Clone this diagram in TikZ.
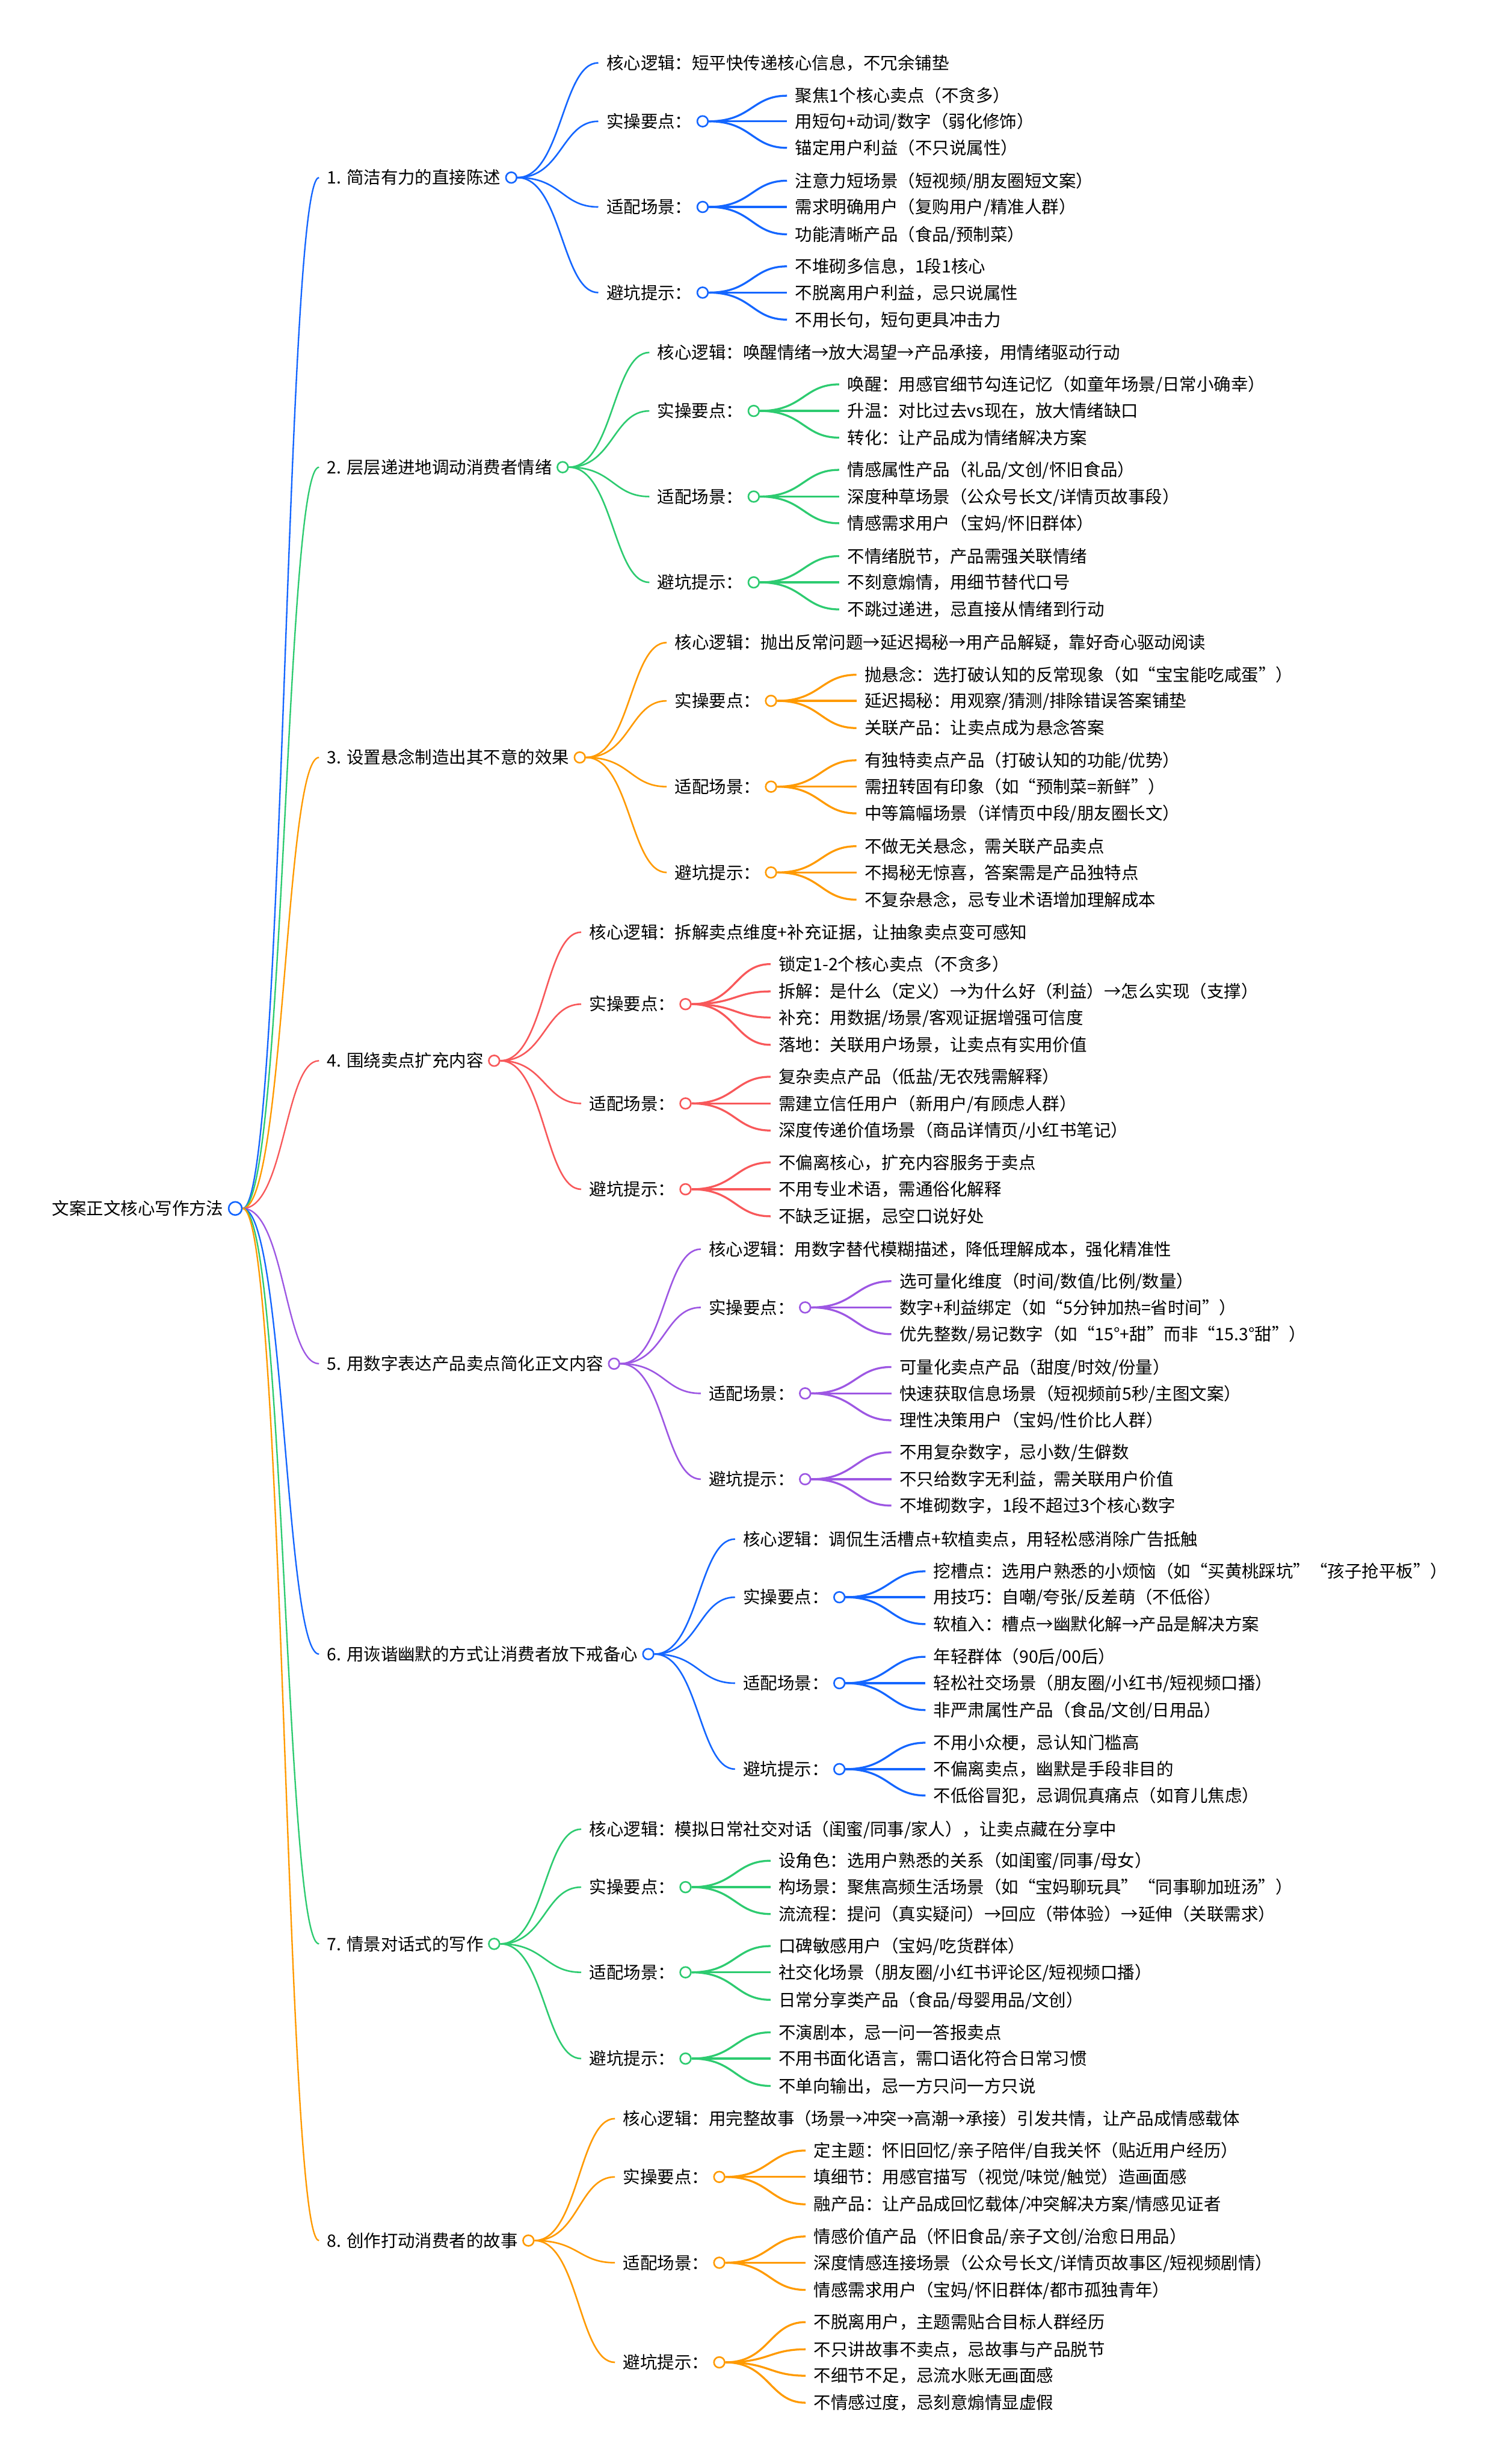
\documentclass[tikz,border=0pt]{standalone}
\usepackage{fontspec}
\setmainfont{Noto Sans CJK SC}
\usepackage{xcolor}
\usetikzlibrary{positioning,calc}
\definecolor{mblue}{HTML}{1466FF}
\definecolor{mgreen}{HTML}{2DCB70}
\definecolor{morange}{HTML}{FF9A00}
\definecolor{mred}{HTML}{F8585A}
\definecolor{mpurple}{HTML}{9D57E3}
\tikzset{
  tnode/.style={anchor=west, inner sep=0pt, text height=9pt, text depth=0.8pt,
                font=\fontsize{10.9}{13}\selectfont},
  dot/.style={circle, draw=#1, fill=white, line width=1pt, minimum size=6.8pt, inner sep=0pt},
  link/.style={line width=1pt, shorten >=5pt,
               to path={let \p1=(\tikztostart), \p2=(\tikztotarget) in
                 .. controls ({(\x1+\x2)/2},\y1) and ({(\x1+\x2)/2},\y2) .. (\tikztotarget)}},
  twig/.style={link, line width=1.25pt},
}

\begin{document}
\begin{tikzpicture}[x=1pt, y=-1pt]
  \fill[white] (0,0) rectangle (955,1568);
  \useasboundingbox (0,0) rectangle (955,1568);

  % root
  \node[tnode] (root) at (33,769) {文案正文核心写作方法};
  \node[dot=mblue, minimum size=8.4pt, right=2.6pt of root] (rooto) {};

  % branches
  \node[tnode] (b1) at (208,113) {1. 简洁有力的直接陈述};
  \node[tnode] (b2) at (208,297.3) {2. 层层递进地调动消费者情绪};
  \node[tnode] (b3) at (208,482) {3. 设置悬念制造出其不意的效果};
  \node[tnode] (b4) at (208,675) {4. 围绕卖点扩充内容};
  \node[tnode] (b5) at (208,867.8) {5. 用数字表达产品卖点简化正文内容};
  \node[tnode] (b6) at (208,1052.6) {6. 用诙谐幽默的方式让消费者放下戒备心};
  \node[tnode] (b7) at (208,1237) {7. 情景对话式的写作};
  \node[tnode] (b8) at (208,1425.8) {8. 创作打动消费者的故事};
  \node[dot=mblue, right=2.6pt of b1] (b1o) {};
  \node[dot=mgreen, right=2.6pt of b2] (b2o) {};
  \node[dot=morange, right=2.6pt of b3] (b3o) {};
  \node[dot=mred, right=2.6pt of b4] (b4o) {};
  \node[dot=mpurple, right=2.6pt of b5] (b5o) {};
  \node[dot=mblue, right=2.6pt of b6] (b6o) {};
  \node[dot=mgreen, right=2.6pt of b7] (b7o) {};
  \node[dot=morange, right=2.6pt of b8] (b8o) {};
  \draw[link, line width=0.9pt] (rooto.east)
    edge[mblue] (b1.west) edge[mgreen] (b2.west) edge[morange] (b3.west) edge[mred] (b4.west)
    edge[mpurple] (b5.west) edge[mblue] (b6.west) edge[mgreen] (b7.west) edge[morange] (b8.west);

  % 1
  \node[tnode] (b1k) at (385.7,40) {核心逻辑：短平快传递核心信息，不冗余铺垫};
  \node[tnode] (b1s) at (385.7,77.2) {实操要点：};
  \node[tnode] (b1f) at (385.7,131.7) {适配场景：};
  \node[tnode] (b1p) at (385.7,186.2) {避坑提示：};
  \node[dot=mblue, right=2.6pt of b1s] (b1so) {};
  \node[dot=mblue, right=2.6pt of b1f] (b1fo) {};
  \node[dot=mblue, right=2.6pt of b1p] (b1po) {};
  \node[tnode] (b1s1) at (505.8,60.9) {聚焦1个核心卖点（不贪多）};
  \node[tnode] (b1s2) at (505.8,77.2) {用短句+动词/数字（弱化修饰）};
  \node[tnode] (b1s3) at (505.8,94.1) {锚定用户利益（不只说属性）};
  \node[tnode] (b1f1) at (505.8,115) {注意力短场景（短视频/朋友圈短文案）};
  \node[tnode] (b1f2) at (505.8,131.7) {需求明确用户（复购用户/精准人群）};
  \node[tnode] (b1f3) at (505.8,149.1) {功能清晰产品（食品/预制菜）};
  \node[tnode] (b1p1) at (505.8,169.5) {不堆砌多信息，1段1核心};
  \node[tnode] (b1p2) at (505.8,186.2) {不脱离用户利益，忌只说属性};
  \node[tnode] (b1p3) at (505.8,203.4) {不用长句，短句更具冲击力};
  \draw[link, mblue] (b1o.east) edge (b1k.west) edge (b1s.west) edge (b1f.west) edge (b1p.west);
  \draw[twig, mblue] (b1so.east) edge (b1s1.west) edge (b1s2.west) edge (b1s3.west);
  \draw[twig, mblue] (b1fo.east) edge (b1f1.west) edge (b1f2.west) edge (b1f3.west);
  \draw[twig, mblue] (b1po.east) edge (b1p1.west) edge (b1p2.west) edge (b1p3.west);

  % 2
  \node[tnode] (b2k) at (418.2,224.3) {核心逻辑：唤醒情绪→放大渴望→产品承接，用情绪驱动行动};
  \node[tnode] (b2s) at (418.2,261.5) {实操要点：};
  \node[tnode] (b2f) at (418.2,316) {适配场景：};
  \node[tnode] (b2p) at (418.2,370.6) {避坑提示：};
  \node[dot=mgreen, right=2.6pt of b2s] (b2so) {};
  \node[dot=mgreen, right=2.6pt of b2f] (b2fo) {};
  \node[dot=mgreen, right=2.6pt of b2p] (b2po) {};
  \node[tnode] (b2s1) at (539,244.6) {唤醒：用感官细节勾连记忆（如童年场景/日常小确幸）};
  \node[tnode] (b2s2) at (539,261.5) {升温：对比过去vs现在，放大情绪缺口};
  \node[tnode] (b2s3) at (539,278.5) {转化：让产品成为情绪解决方案};
  \node[tnode] (b2f1) at (539,299) {情感属性产品（礼品/文创/怀旧食品）};
  \node[tnode] (b2f2) at (539,316) {深度种草场景（公众号长文/详情页故事段）};
  \node[tnode] (b2f3) at (539,333) {情感需求用户（宝妈/怀旧群体）};
  \node[tnode] (b2p1) at (539,353.9) {不情绪脱节，产品需强关联情绪};
  \node[tnode] (b2p2) at (539,370.6) {不刻意煽情，用细节替代口号};
  \node[tnode] (b2p3) at (539,387.8) {不跳过递进，忌直接从情绪到行动};
  \draw[link, mgreen] (b2o.east) edge (b2k.west) edge (b2s.west) edge (b2f.west) edge (b2p.west);
  \draw[twig, mgreen] (b2so.east) edge (b2s1.west) edge (b2s2.west) edge (b2s3.west);
  \draw[twig, mgreen] (b2fo.east) edge (b2f1.west) edge (b2f2.west) edge (b2f3.west);
  \draw[twig, mgreen] (b2po.east) edge (b2p1.west) edge (b2p2.west) edge (b2p3.west);

  % 3
  \node[tnode] (b3k) at (429.2,408.9) {核心逻辑：抛出反常问题→延迟揭秘→用产品解疑，靠好奇心驱动阅读};
  \node[tnode] (b3s) at (429.2,446) {实操要点：};
  \node[tnode] (b3f) at (429.2,500.6) {适配场景：};
  \node[tnode] (b3p) at (429.2,555.2) {避坑提示：};
  \node[dot=morange, right=2.6pt of b3s] (b3so) {};
  \node[dot=morange, right=2.6pt of b3f] (b3fo) {};
  \node[dot=morange, right=2.6pt of b3p] (b3po) {};
  \node[tnode] (b3s1) at (550,429.4) {抛悬念：选打破认知的反常现象（如“宝宝能吃咸蛋”）};
  \node[tnode] (b3s2) at (550,446) {延迟揭秘：用观察/猜测/排除错误答案铺垫};
  \node[tnode] (b3s3) at (550,463.3) {关联产品：让卖点成为悬念答案};
  \node[tnode] (b3f1) at (550,483.8) {有独特卖点产品（打破认知的功能/优势）};
  \node[tnode] (b3f2) at (550,500.6) {需扭转固有印象（如“预制菜=新鲜”）};
  \node[tnode] (b3f3) at (550,517.6) {中等篇幅场景（详情页中段/朋友圈长文）};
  \node[tnode] (b3p1) at (550,538.5) {不做无关悬念，需关联产品卖点};
  \node[tnode] (b3p2) at (550,555.2) {不揭秘无惊喜，答案需是产品独特点};
  \node[tnode] (b3p3) at (550,572.5) {不复杂悬念，忌专业术语增加理解成本};
  \draw[link, morange] (b3o.east) edge (b3k.west) edge (b3s.west) edge (b3f.west) edge (b3p.west);
  \draw[twig, morange] (b3so.east) edge (b3s1.west) edge (b3s2.west) edge (b3s3.west);
  \draw[twig, morange] (b3fo.east) edge (b3f1.west) edge (b3f2.west) edge (b3f3.west);
  \draw[twig, morange] (b3po.east) edge (b3p1.west) edge (b3p2.west) edge (b3p3.west);

  % 4
  \node[tnode] (b4k) at (374.8,593.2) {核心逻辑：拆解卖点维度+补充证据，让抽象卖点变可感知};
  \node[tnode] (b4s) at (374.8,639) {实操要点：};
  \node[tnode] (b4f) at (374.8,702.2) {适配场景：};
  \node[tnode] (b4p) at (374.8,756.8) {避坑提示：};
  \node[dot=mred, right=2.6pt of b4s] (b4so) {};
  \node[dot=mred, right=2.6pt of b4f] (b4fo) {};
  \node[dot=mred, right=2.6pt of b4p] (b4po) {};
  \node[tnode] (b4s1) at (495.3,613.5) {锁定1-2个核心卖点（不贪多）};
  \node[tnode] (b4s2) at (495.3,630.9) {拆解：是什么（定义）→为什么好（利益）→怎么实现（支撑）};
  \node[tnode] (b4s3) at (495.3,647.5) {补充：用数据/场景/客观证据增强可信度};
  \node[tnode] (b4s4) at (495.3,664.9) {落地：关联用户场景，让卖点有实用价值};
  \node[tnode] (b4f1) at (495.3,685.2) {复杂卖点产品（低盐/无农残需解释）};
  \node[tnode] (b4f2) at (495.3,702.2) {需建立信任用户（新用户/有顾虑人群）};
  \node[tnode] (b4f3) at (495.3,719.4) {深度传递价值场景（商品详情页/小红书笔记）};
  \node[tnode] (b4p1) at (495.3,739.7) {不偏离核心，扩充内容服务于卖点};
  \node[tnode] (b4p2) at (495.3,756.8) {不用专业术语，需通俗化解释};
  \node[tnode] (b4p3) at (495.3,774) {不缺乏证据，忌空口说好处};
  \draw[link, mred] (b4o.east) edge (b4k.west) edge (b4s.west) edge (b4f.west) edge (b4p.west);
  \draw[twig, mred] (b4so.east) edge (b4s1.west) edge (b4s2.west) edge (b4s3.west) edge (b4s4.west);
  \draw[twig, mred] (b4fo.east) edge (b4f1.west) edge (b4f2.west) edge (b4f3.west);
  \draw[twig, mred] (b4po.east) edge (b4p1.west) edge (b4p2.west) edge (b4p3.west);

  % 5
  \node[tnode] (b5k) at (450.9,794.9) {核心逻辑：用数字替代模糊描述，降低理解成本，强化精准性};
  \node[tnode] (b5s) at (450.9,832) {实操要点：};
  \node[tnode] (b5f) at (450.9,886.7) {适配场景：};
  \node[tnode] (b5p) at (450.9,941.3) {避坑提示：};
  \node[dot=mpurple, right=2.6pt of b5s] (b5so) {};
  \node[dot=mpurple, right=2.6pt of b5f] (b5fo) {};
  \node[dot=mpurple, right=2.6pt of b5p] (b5po) {};
  \node[tnode] (b5s1) at (572.2,815.3) {选可量化维度（时间/数值/比例/数量）};
  \node[tnode] (b5s2) at (572.2,832) {数字+利益绑定（如“5分钟加热=省时间”）};
  \node[tnode] (b5s3) at (572.2,849) {优先整数/易记数字（如“15°+甜”而非“15.3°甜”）};
  \node[tnode] (b5f1) at (572.2,869.9) {可量化卖点产品（甜度/时效/份量）};
  \node[tnode] (b5f2) at (572.2,886.7) {快速获取信息场景（短视频前5秒/主图文案）};
  \node[tnode] (b5f3) at (572.2,903.8) {理性决策用户（宝妈/性价比人群）};
  \node[tnode] (b5p1) at (572.2,924.2) {不用复杂数字，忌小数/生僻数};
  \node[tnode] (b5p2) at (572.2,941.3) {不只给数字无利益，需关联用户价值};
  \node[tnode] (b5p3) at (572.2,958.1) {不堆砌数字，1段不超过3个核心数字};
  \draw[link, mpurple] (b5o.east) edge (b5k.west) edge (b5s.west) edge (b5f.west) edge (b5p.west);
  \draw[twig, mpurple] (b5so.east) edge (b5s1.west) edge (b5s2.west) edge (b5s3.west);
  \draw[twig, mpurple] (b5fo.east) edge (b5f1.west) edge (b5f2.west) edge (b5f3.west);
  \draw[twig, mpurple] (b5po.east) edge (b5p1.west) edge (b5p2.west) edge (b5p3.west);

  % 6
  \node[tnode] (b6k) at (472.7,979.4) {核心逻辑：调侃生活槽点+软植卖点，用轻松感消除广告抵触};
  \node[tnode] (b6s) at (472.7,1016.4) {实操要点：};
  \node[tnode] (b6f) at (472.7,1071.1) {适配场景：};
  \node[tnode] (b6p) at (472.7,1125.8) {避坑提示：};
  \node[dot=mblue, right=2.6pt of b6s] (b6so) {};
  \node[dot=mblue, right=2.6pt of b6f] (b6fo) {};
  \node[dot=mblue, right=2.6pt of b6p] (b6po) {};
  \node[tnode] (b6s1) at (593.9,999.9) {挖槽点：选用户熟悉的小烦恼（如“买黄桃踩坑”“孩子抢平板”）};
  \node[tnode] (b6s2) at (593.9,1016.4) {用技巧：自嘲/夸张/反差萌（不低俗）};
  \node[tnode] (b6s3) at (593.9,1033.5) {软植入：槽点→幽默化解→产品是解决方案};
  \node[tnode] (b6f1) at (593.9,1054.3) {年轻群体（90后/00后）};
  \node[tnode] (b6f2) at (593.9,1071.1) {轻松社交场景（朋友圈/小红书/短视频口播）};
  \node[tnode] (b6f3) at (593.9,1088.2) {非严肃属性产品（食品/文创/日用品）};
  \node[tnode] (b6p1) at (593.9,1109) {不用小众梗，忌认知门槛高};
  \node[tnode] (b6p2) at (593.9,1125.8) {不偏离卖点，幽默是手段非目的};
  \node[tnode] (b6p3) at (593.9,1142.6) {不低俗冒犯，忌调侃真痛点（如育儿焦虑）};
  \draw[link, mblue] (b6o.east) edge (b6k.west) edge (b6s.west) edge (b6f.west) edge (b6p.west);
  \draw[twig, mblue] (b6so.east) edge (b6s1.west) edge (b6s2.west) edge (b6s3.west);
  \draw[twig, mblue] (b6fo.east) edge (b6f1.west) edge (b6f2.west) edge (b6f3.west);
  \draw[twig, mblue] (b6po.east) edge (b6p1.west) edge (b6p2.west) edge (b6p3.west);

  % 7
  \node[tnode] (b7k) at (374.8,1164) {核心逻辑：模拟日常社交对话（闺蜜/同事/家人），让卖点藏在分享中};
  \node[tnode] (b7s) at (374.8,1200.9) {实操要点：};
  \node[tnode] (b7f) at (374.8,1255.1) {适配场景：};
  \node[tnode] (b7p) at (374.8,1310) {避坑提示：};
  \node[dot=mgreen, right=2.6pt of b7s] (b7so) {};
  \node[dot=mgreen, right=2.6pt of b7f] (b7fo) {};
  \node[dot=mgreen, right=2.6pt of b7p] (b7po) {};
  \node[tnode] (b7s1) at (495.3,1184.1) {设角色：选用户熟悉的关系（如闺蜜/同事/母女）};
  \node[tnode] (b7s2) at (495.3,1200.9) {构场景：聚焦高频生活场景（如“宝妈聊玩具”“同事聊加班汤”）};
  \node[tnode] (b7s3) at (495.3,1218) {流流程：提问（真实疑问）→回应（带体验）→延伸（关联需求）};
  \node[tnode] (b7f1) at (495.3,1238.4) {口碑敏感用户（宝妈/吃货群体）};
  \node[tnode] (b7f2) at (495.3,1255.1) {社交化场景（朋友圈/小红书评论区/短视频口播）};
  \node[tnode] (b7f3) at (495.3,1272.6) {日常分享类产品（食品/母婴用品/文创）};
  \node[tnode] (b7p1) at (495.3,1293.3) {不演剧本，忌一问一答报卖点};
  \node[tnode] (b7p2) at (495.3,1310) {不用书面化语言，需口语化符合日常习惯};
  \node[tnode] (b7p3) at (495.3,1327.4) {不单向输出，忌一方只问一方只说};
  \draw[link, mgreen] (b7o.east) edge (b7k.west) edge (b7s.west) edge (b7f.west) edge (b7p.west);
  \draw[twig, mgreen] (b7so.east) edge (b7s1.west) edge (b7s2.west) edge (b7s3.west);
  \draw[twig, mgreen] (b7fo.east) edge (b7f1.west) edge (b7f2.west) edge (b7f3.west);
  \draw[twig, mgreen] (b7po.east) edge (b7p1.west) edge (b7p2.west) edge (b7p3.west);

  % 8
  \node[tnode] (b8k) at (396.3,1348.2) {核心逻辑：用完整故事（场景→冲突→高潮→承接）引发共情，让产品成情感载体};
  \node[tnode] (b8s) at (396.3,1385.3) {实操要点：};
  \node[tnode] (b8f) at (396.3,1439.9) {适配场景：};
  \node[tnode] (b8p) at (396.3,1503.3) {避坑提示：};
  \node[dot=morange, right=2.6pt of b8s] (b8so) {};
  \node[dot=morange, right=2.6pt of b8f] (b8fo) {};
  \node[dot=morange, right=2.6pt of b8p] (b8po) {};
  \node[tnode] (b8s1) at (517.6,1368.5) {定主题：怀旧回忆/亲子陪伴/自我关怀（贴近用户经历）};
  \node[tnode] (b8s2) at (517.6,1385.3) {填细节：用感官描写（视觉/味觉/触觉）造画面感};
  \node[tnode] (b8s3) at (517.6,1402.7) {融产品：让产品成回忆载体/冲突解决方案/情感见证者};
  \node[tnode] (b8f1) at (517.6,1423.2) {情感价值产品（怀旧食品/亲子文创/治愈日用品）};
  \node[tnode] (b8f2) at (517.6,1439.9) {深度情感连接场景（公众号长文/详情页故事区/短视频剧情）};
  \node[tnode] (b8f3) at (517.6,1457.2) {情感需求用户（宝妈/怀旧群体/都市孤独青年）};
  \node[tnode] (b8p1) at (517.6,1477.7) {不脱离用户，主题需贴合目标人群经历};
  \node[tnode] (b8p2) at (517.6,1495) {不只讲故事不卖点，忌故事与产品脱节};
  \node[tnode] (b8p3) at (517.6,1511.8) {不细节不足，忌流水账无画面感};
  \node[tnode] (b8p4) at (517.6,1529) {不情感过度，忌刻意煽情显虚假};
  \draw[link, morange] (b8o.east) edge (b8k.west) edge (b8s.west) edge (b8f.west) edge (b8p.west);
  \draw[twig, morange] (b8so.east) edge (b8s1.west) edge (b8s2.west) edge (b8s3.west);
  \draw[twig, morange] (b8fo.east) edge (b8f1.west) edge (b8f2.west) edge (b8f3.west);
  \draw[twig, morange] (b8po.east) edge (b8p1.west) edge (b8p2.west) edge (b8p3.west) edge (b8p4.west);
\end{tikzpicture}
\end{document}
